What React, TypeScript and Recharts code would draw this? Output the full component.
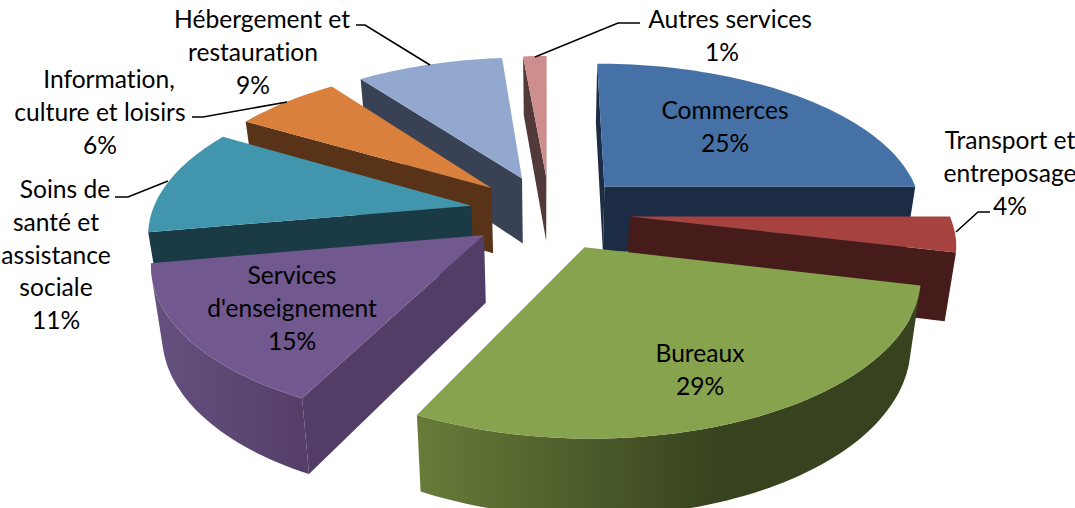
import React from 'react';
import { PieChart, Pie } from 'recharts';

const categories = ['Commerces', 'Transport et entreposage', 'Bureaux', "Services d'enseignement", 'Soins de santé et assistance sociale', 'Information, culture et loisirs', 'Hébergement et restauration', 'Autres services'];
const shares = [25.0, 3.7, 28.7, 14.8, 11.2, 6.4, 8.8, 1.4];
const labelLines = [
  ['Commerces'],
  ['Transport et', 'entreposage'],
  ['Bureaux'],
  ['Services', "d'enseignement"],
  ['Soins de', 'santé et', 'assistance', 'sociale'],
  ['Information,', 'culture et loisirs'],
  ['Hébergement et', 'restauration'],
  ['Autres services'],
];

const topColors = ['#4571a7', '#a64340', '#87a34d', '#71588f', '#4196ae', '#d8803c', '#93a8cf', '#ce8e8d'];
const faceColors = ['#1b2c44', '#451c1a', '#37421f', '#513d66', '#1a3a46', '#583317', '#394254', '#533a3a'];
const wallLeftColors = ['#1b2c44', '#451c1a', '#677c39', '#65517f', '#1a3a46', '#583317', '#394254', '#533a3a'];
const wallRightColors = ['#1b2c44', '#451c1a', '#37421f', '#553f6a', '#1a3a46', '#583317', '#394254', '#533a3a'];

// back to front, slices overlap each other
const paintOrder = [7, 6, 5, 4, 3, 0, 1, 2];

// label anchors: centre x, first baseline, x nudge of the first line, optional leader line
const labelLayout = [
  { x: 725, y: 119, dx: 0, leader: null },
  { x: 1010, y: 149, dx: 0, leader: '990,212 978,212 956,232' },
  { x: 700, y: 362, dx: 0, leader: null },
  { x: 292, y: 284, dx: 0, leader: null },
  { x: 56, y: 198, dx: 9, leader: '115,197 128,197 168,181' },
  { x: 100, y: 88, dx: 9, leader: '192,117 203,117 287,102' },
  { x: 253, y: 28, dx: 9, leader: '356,25 365,25 430,65' },
  { x: 722, y: 28, dx: 8, leader: '535,57 618,23 640,23' },
];

const FONT = 'Lato, Carlito, sans-serif';
const FONT_SIZE = 24.6;
const LINE_H = 32.8;

// perspective of the pie plane, fitted on the picture
const VIEW_X = 549.5;
const HORIZON = -746;
const PERSP_A = 0.003131;
const PERSP_B = 0.000488;
const EXPLODE = 0.25;

const project = (X: number, V: number) => {
  const s = 1 / (PERSP_A - PERSP_B * V);
  return [VIEW_X + X * s, HORIZON + 3 * s];
};
const drop = (p: number[]) => [VIEW_X + (p[0] - VIEW_X) * 0.972, 56 + 1.05 * p[1]];
const toPath = (pts: number[][]) => 'M' + pts.map((p) => p[0].toFixed(1) + ' ' + p[1].toFixed(1)).join('L') + 'Z';
const area = (pts: number[][]) =>
  pts.reduce((sum, p, i) => {
    const q = pts[(i + 1) % pts.length];
    return sum + p[0] * q[1] - q[0] * p[1];
  }, 0);

const Wedge3D = ({ props, idx }: any) => {
  const rad = Math.PI / 180;
  const start = (90 - props.startAngle) * rad;
  const end = (90 - props.endAngle) * rad;
  const mid = (start + end) / 2;
  const ox = EXPLODE * Math.sin(mid);
  const oy = -EXPLODE * Math.cos(mid);

  const apex = project(ox, oy);
  const arc: number[][] = [];
  const n = Math.max(3, Math.ceil((end - start) / (1.5 * rad)));
  for (let i = 0; i <= n; i++) {
    const a = start + ((end - start) * i) / n;
    arc.push(project(ox + Math.sin(a), oy - Math.cos(a)));
  }
  const low = arc.map(drop);
  const apexLow = drop(apex);

  // outer wall, only the runs of segments that face the viewer
  const walls: string[] = [];
  let run: number[] = [];
  const flush = () => {
    if (run.length) {
      const from = run[0];
      const to = run[run.length - 1] + 1;
      const up = arc.slice(from, to + 1);
      const down = low.slice(from, to + 1).reverse();
      walls.push(toPath([...up, ...down]));
    }
    run = [];
  };
  for (let i = 0; i < n; i++) {
    if (area([arc[i], arc[i + 1], low[i + 1], low[i]]) < 0) run.push(i);
    else flush();
  }
  flush();

  const startFace = [apex, arc[0], low[0], apexLow];
  const endFace = [apex, arc[n], low[n], apexLow];
  const gradId = 'wall' + idx;
  const xs = arc.map((p) => p[0]);

  return (
    <g>
      <defs>
        <linearGradient id={gradId} gradientUnits="userSpaceOnUse" x1={Math.min(...xs)} y1="0" x2={idx === 2 ? 720 : Math.max(...xs)} y2="0">
          <stop offset="0%" stopColor={wallLeftColors[idx]} />
          <stop offset="100%" stopColor={wallRightColors[idx]} />
        </linearGradient>
      </defs>
      {walls.map((d, i) => (
        <path key={i} d={d} fill={`url(#${gradId})`} />
      ))}
      {area(startFace) < 0 && <path d={toPath(startFace)} fill={faceColors[idx]} />}
      {area(endFace) > 0 && <path d={toPath(endFace)} fill={faceColors[idx]} />}
      <path d={toPath([apex, ...arc])} fill={topColors[idx]} />
    </g>
  );
};

const SliceLabel = ({ index }: any) => {
  const spot = labelLayout[index];
  const lines = [...labelLines[index], Math.round(shares[index]) + '%'];
  return (
    <g>
      {spot.leader && <polyline points={spot.leader} fill="none" stroke="#000" strokeWidth={1.6} />}
      <text fontFamily={FONT} fontSize={FONT_SIZE} fill="#000" textAnchor="middle" style={{ fontVariantLigatures: 'none' }}>
        {lines.map((line, i) => (
          <tspan key={i} x={spot.x + (i === 0 ? spot.dx : 0)} y={spot.y + i * LINE_H}>
            {line}
          </tspan>
        ))}
      </text>
    </g>
  );
};

export default function App() {
  const rows = categories.map((name, i) => ({ name, value: shares[i] }));
  return (
    <div style={{ position: 'absolute', left: 0, top: 0 }}>
      <PieChart width={1075} height={508} margin={{ top: 0, right: 0, bottom: 0, left: 0 }}>
        {paintOrder.map((idx, layer) => (
          <Pie
            key={idx}
            data={rows}
            dataKey="value"
            nameKey="name"
            cx={537}
            cy={254}
            outerRadius={100}
            startAngle={90}
            endAngle={-270}
            stroke="none"
            isAnimationActive={false}
            shape={(p: any) => (p.name === categories[idx] ? <Wedge3D props={p} idx={idx} /> : <g />)}
            label={layer === paintOrder.length - 1 ? (p: any) => <SliceLabel index={p.index} /> : false}
            labelLine={false}
          />
        ))}
      </PieChart>
    </div>
  );
}
